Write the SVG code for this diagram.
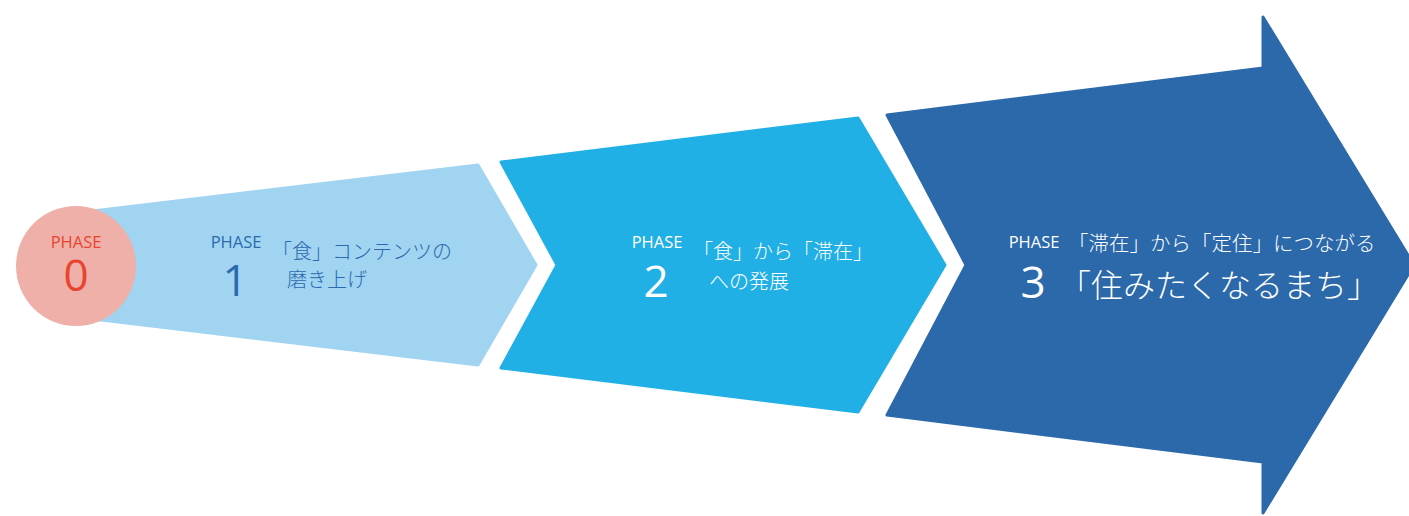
<svg xmlns="http://www.w3.org/2000/svg" width="1409" height="516" viewBox="0 0 1409 516">
<style>
.shape{stroke-linejoin:round;stroke-width:3}
.lat{font-family:"Open Sans","Noto Sans","Liberation Sans",sans-serif}
.jp{font-family:"Noto Sans CJK JP","Noto Sans",sans-serif;font-weight:300}
.ph{font-size:16.5px;text-anchor:middle}
.num{font-size:44px;text-anchor:middle}
</style>
<rect width="1409" height="516" fill="#ffffff"/>
<g id="phase1">
<polygon class="shape" points="76,213 478,165 536,265 478,365 76,317" fill="#A0D4F1" stroke="#A0D4F1"/>
<text class="lat ph" x="236" y="248" fill="#2B6AAE">PHASE</text>
<text class="lat num" x="235" y="296" fill="#2B6AAE">1</text>
<text class="jp" x="272" y="259" font-size="20" fill="#2B6AAE">「食」コンテンツの</text>
<text class="jp" x="287" y="287" font-size="20" fill="#2B6AAE">磨き上げ</text>
</g>
<g id="phase0">
<circle cx="76" cy="266" r="60" fill="#EEB0A8"/>
<text class="lat ph" x="76" y="248" fill="#E8452F">PHASE</text>
<text class="lat num" x="76" y="291" fill="#E8452F">0</text>
</g>
<g id="phase2">
<polygon class="shape" points="501,162 858,118 945,265 858,412 501,368 557,265" fill="#20B0E5" stroke="#20B0E5"/>
<text class="lat ph" x="657" y="248" fill="#ffffff">PHASE</text>
<text class="lat num" x="656" y="297" fill="#ffffff">2</text>
<text class="jp" x="693" y="259" font-size="20" fill="#ffffff">「食」から「滞在」</text>
<text class="jp" x="709" y="289" font-size="20" fill="#ffffff">への発展</text>
</g>
<g id="phase3">
<polygon class="shape" points="887,115 1263,68 1263,17 1414,265 1263,513 1263,462 887,415 966,265" fill="#2B69AB" stroke="#2B69AB"/>
<text class="lat ph" x="1034" y="248" fill="#ffffff">PHASE</text>
<text class="lat num" x="1033" y="298" fill="#ffffff">3</text>
<text class="jp" x="1068" y="251" font-size="20.5" fill="#ffffff">「滞在」から「定住」につながる</text>
<text class="jp" x="1059" y="297" font-size="32" fill="#ffffff">「住みたくなるまち」</text>
</g>
<g id="connectors"/>
</svg>
